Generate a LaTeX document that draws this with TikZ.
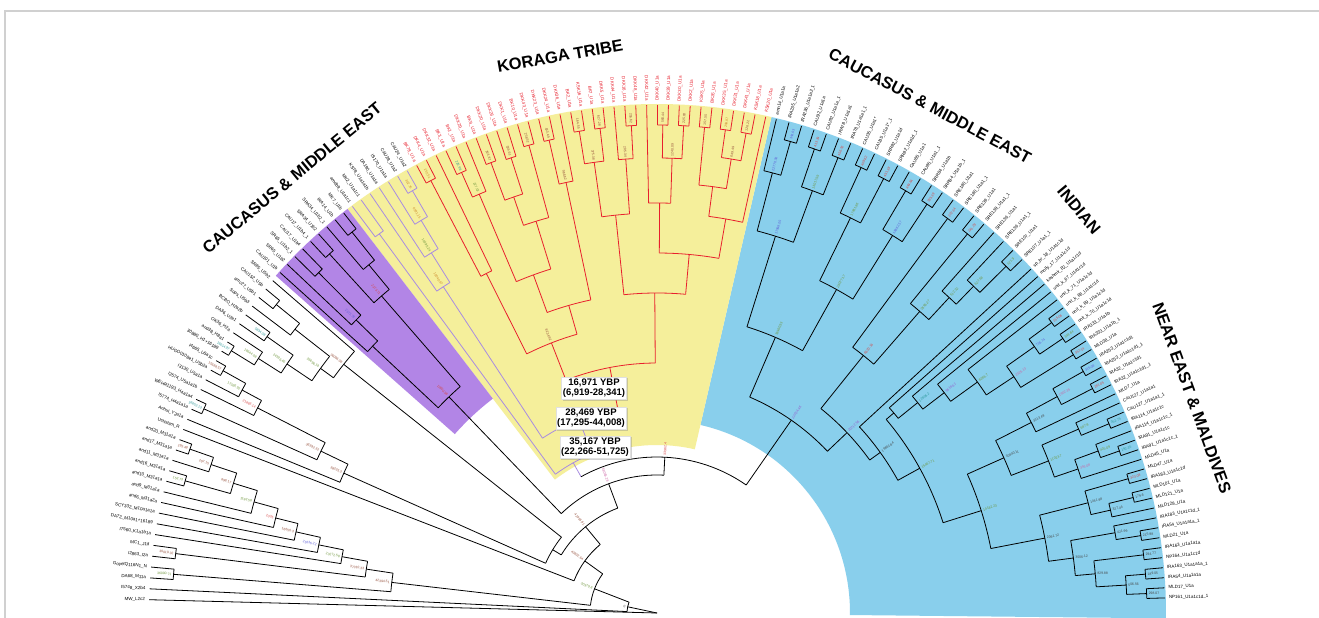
\documentclass[tikz,border=0pt]{standalone}
\usepackage{fontspec}
\setmainfont{Liberation Sans}
\usetikzlibrary{shadows}

\definecolor{skyfill}{RGB}{137,207,236}
\definecolor{yelfill}{RGB}{245,239,155}
\definecolor{purfill}{RGB}{178,133,230}
\definecolor{korred}{RGB}{232,32,45}
\definecolor{lavline}{RGB}{168,140,225}
\definecolor{framegray}{RGB}{208,208,208}
\definecolor{nred}{RGB}{215,70,70}
\definecolor{ngreen}{RGB}{110,150,60}
\definecolor{nblue}{RGB}{95,95,215}
\definecolor{nteal}{RGB}{40,150,150}
\definecolor{nbrown}{RGB}{150,80,60}
\definecolor{npink}{RGB}{205,100,165}
\definecolor{npurple}{RGB}{150,90,205}
\definecolor{norange}{RGB}{205,135,40}
\definecolor{ngray}{RGB}{70,70,70}

\tikzset{
  blk/.style={draw=black,line width=0.8pt},
  kor/.style={draw=korred,line width=0.8pt},
  lav/.style={draw=lavline,line width=0.8pt},
  leaflab/.style={font=\fontsize{4.5}{5}\selectfont,inner sep=0pt},
  vallab/.style={font=\fontsize{3.4}{4}\selectfont,inner sep=0pt},
  cladetitle/.style={font=\fontsize{16.5}{18}\selectfont\bfseries,inner sep=0pt},
  agebox/.style={fill=white,draw=black!12,align=center,inner sep=1.5pt,
    drop shadow={opacity=0.35,shadow xshift=1.5pt,shadow yshift=-1.5pt},
    font=\fontsize{9.5}{10.5}\selectfont\bfseries}
}

% angle of leaf number #1 on the fan
\newcommand\la[1]{(#1<=83 ? 178.5-1.23*#1 : (#1<=106 ? 76.41-1.47*(#1-83) : 42.6-1.136*(#1-106)))}
% stem angle of a named inner node
\newcommand\st[1]{\csname st#1\endcsname}

% value written in the box of a node
\newcommand\vlabel[4]{%
  \pgfmathsetmacro\rr{#2+2}%
  \ifdim#1pt>90pt
    \node[vallab,text=#4,rotate=#1-180,anchor=east] at (#1:\rr) {#3};%
  \else
    \node[vallab,text=#4,rotate=#1,anchor=west] at (#1:\rr) {#3};%
  \fi}

% inner node: name, child angle, child angle, radius, parent radius, value, colour, line style
\newcommand\tnode[8]{%
  \pgfmathsetmacro\angA{#2}\pgfmathsetmacro\angB{#3}%
  \pgfmathsetmacro\angM{(\angA+\angB)/2}%
  \expandafter\xdef\csname st#1\endcsname{\angM}%
  \draw[#8] (\angA:#4) arc[start angle=\angA,end angle=\angB,radius=#4pt];%
  \draw[#8] (\angM:#4) -- (\angM:#5);%
  \vlabel{\angM}{#4}{#6}{#7}}

% leaf: number, parent radius, name, line style, text colour
\newcommand\tleaf[5]{%
  \pgfmathsetmacro\angA{\la{#1}}%
  \draw[#4] (\angA:508) -- (\angA:#2);%
  \ifdim\angA pt>90pt
    \node[leaflab,text=#5,rotate=\angA-180,anchor=east] (lf#1) at (\angA:512) {#3};%
  \else
    \node[leaflab,text=#5,rotate=\angA,anchor=west] (lf#1) at (\angA:512) {#3};%
  \fi}

\begin{document}
\begin{tikzpicture}[x=1pt,y=1pt]
\useasboundingbox (0,0) rectangle (1319,618);
\fill[white] (0,0) rectangle (1319,618);
\draw[framegray,line width=1.3pt] (5,0) -- (5,607) -- (1319,607);

\begin{scope}[shift={(657,5)}]
% clade backgrounds
\fill[skyfill] (-0.6:193) -- (-0.6:509) arc[start angle=-0.6,end angle=77,radius=509pt]
  -- (77:193) arc[start angle=77,end angle=-0.6,radius=193pt] -- cycle;
\fill[yelfill] (77:168) -- (77:509) arc[start angle=77,end angle=127.45,radius=509pt]
  -- (127.45:168) arc[start angle=127.45,end angle=77,radius=168pt] -- cycle;
\fill[purfill] (127.45:270) -- (127.45:509) arc[start angle=127.45,end angle=138.5,radius=509pt]
  -- (138.5:270) arc[start angle=138.5,end angle=127.45,radius=270pt] -- cycle;

% leaves
\foreach \i/\pr/\nm in {0/0/MW\_L2c2, 1/30/I5748\_X2b4, 2/485/DA68\_M11a, 3/485/GoyetQ116N1\_N,
  4/485/I2863\_I2a, 5/485/MC1\_J1d, 6/320/I7560\_K1a1b1a, 7/345/DA72\_M10a1+16189,
  8/370/SCY332\_M10a1a1a, 9/393/and6\_M31a2a, 10/418/and9\_M31a1a, 11/490/and10\_M31a1a,
  12/490/and16\_M31a1a, 13/470/and11\_M31a1a, 14/495/and17\_M31a1a, 15/495/and20\_M31a1a,
  16/89/UstIshim\_R, 17/343/Anhui\_Y2a1a, 18/497/I5774\_H4a1a1a, 19/497/WEHR1193\_H4a1a4,
  20/449/I2574\_U5a1a1b, 21/471/I3130\_U5a1a, 22/497/HUGO0108e1\_U5b2a, 23/497/I4665\_U5a1c,
  24/500/30880\_H1+16189, 25/500/and38\_H8a1, 26/473/OK36\_H2a, 27/478/DA36\_U2e1,
  28/478/BCBO\_H2a2b, 29/460/Sops\_U5b3, 30/490/amc27\_U5b1, 31/490/CAU152\_U5b,
  32/400/SR85\_U5b2}
  {\tleaf{\i}{\pr}{\nm}{blk}{black}}
\foreach \i/\pr/\nm in {33/390/CAU101\_U1b, 34/420/SR65\_U1b2, 35/480/SR65\_U1b2\_1,
  36/480/CAU17\_U1b4, 37/486/CAU17\_U1b4\_1, 38/486/SRA34\_U1b2, 39/452/SRA34\_U1b2\_1,
  40/488/IRA14\_U1b, 41/488/MK7\_U1b}
  {\tleaf{\i}{\pr}{\nm}{blk}{black}}
\foreach \i/\pr/\nm in {42/470/amdb9\_U1a1c1, 43/470/MK2\_U1a1c1, 44/390/KST8\_U1a1a1b,
  45/425/DA190\_U1a1a, 46/458/IS170\_U1a1a, 47/488/CAU28\_U1a2, 48/488/CAU24\_U1a2}
  {\tleaf{\i}{\pr}{\nm}{lav}{black}}
\foreach \i/\pr/\nm in {49/488/BK78, 50/488/DKK4, 51/380/DKK32, 52/482/BK3, 53/482/BK1,
  54/455/DKK29, 55/480/BK9, 56/480/DKK20, 57/478/DKK26, 58/478/DKK1, 59/485/BK10,
  60/485/DKK43, 61/485/DKK23, 62/485/DKK24, 63/440/DKK36, 64/488/BK2, 65/488/KSK16,
  66/488/BK7, 67/488/DKK5, 68/455/DKK44, 69/488/DKK16, 70/488/DKK48, 71/410/DKK42,
  72/488/DKK40, 73/488/DKK39, 74/488/DKK30, 75/488/DKK2, 76/488/KSK5, 77/488/BK26,
  78/488/DKK35, 79/488/DKK31, 80/488/DKK41, 81/488/KSK18, 82/400/KSK20}
  {\tleaf{\i}{\pr}{\nm\_U1a}{kor}{korred}}
\foreach \i/\pr/\nm in {83/455/amn14\_U1a1a, 84/490/IRA235\_U1a1a2, 85/490/IRA236\_U1a1a2\_1,
  86/490/CAU92\_U1a1a, 87/490/CAU92\_U1a1a\_1, 88/490/IRA78\_U1a1a1, 89/490/IRA78\_U1a1a1\_1,
  90/490/CAU35\_U1a1*, 91/490/CAU35\_U1a1*\_1, 92/490/SRR82\_U1a1d, 93/490/SRR82\_U1a1d\_1,
  94/490/CAU85\_U1a1, 95/490/CAU85\_U1a1\_1, 96/490/SRR84\_U1a1b, 97/490/SRR84\_U1a1b\_1,
  98/490/SRE180\_U1a1, 99/490/SRE180\_U1a1\_1, 100/490/SRE139\_U1a1, 101/490/SRE139\_U1a1\_1,
  102/430/SRE136\_U1a1, 103/455/SRE136\_U1a1\_1, 104/492/SRE107\_U1a1, 105/492/SRE107\_U1a1\_1,
  106/275/sp\_br\_18\_U1a1c1d, 107/310/molly\_17\_U1a1c1d, 108/335/kashmir\_82\_U1a1c1d,
  109/362/unit\_k\_67\_U1a1c1d, 110/395/unit\_k\_71\_U1a1c1d, 111/490/unit\_k\_68\_U1a1c1d,
  112/490/unit\_k\_69\_U1a1c1d, 113/490/unit\_k\_70\_U1a1c1d, 114/490/IRA333\_U1a1b,
  115/490/IRA333\_U1a1b\_1, 116/490/MLD38\_U1a, 117/490/IRA253\_U1a1c1d1,
  118/490/IRA253\_U1a1c1d1\_1, 119/490/IRA32\_U1a1c1d1, 120/490/IRA32\_U1a1c1d1\_1,
  121/420/MLD7\_U1a, 122/460/CAU127\_U1a1a1, 123/490/CAU127\_U1a1a1\_1, 124/490/IRA114\_U1a1c1c,
  125/470/IRA114\_U1a1c1c\_1, 126/490/IRA91\_U1a1c1c, 127/490/IRA91\_U1a1c1c\_1,
  128/445/MLD45\_U1a, 129/490/MLD47\_U1a, 130/490/IRA183\_U1a1c1d, 131/490/MLD101\_U1a,
  132/490/MLD121\_U1a, 133/465/MLD128\_U1a, 134/465/IRA183\_U1a1c1d\_1,
  135/490/IRA54\_U1a1a1a\_1, 136/490/MLD21\_U1a, 137/490/IRA163\_U1a1a1a,
  138/490/NP164\_U1a1c1d, 139/490/IRA163\_U1a1a1a\_1, 140/490/IRA54\_U1a1a1a,
  141/490/MLD17\_U1a, 142/490/NP161\_U1a1c1d\_1}
  {\tleaf{\i}{\pr}{\nm}{blk}{black}}

% outgroups
\tnode{mdg}{\la{2}}{\la{3}}{485}{267}{36000.71}{ngreen}{blk}
\tnode{mim}{\la{4}}{\la{5}}{485}{294}{30010.32}{nbrown}{blk}
\tnode{m11}{\la{14}}{\la{15}}{495}{470}{195.48}{nbrown}{blk}
\tnode{m10}{\la{13}}{\st{m11}}{470}{443}{297.15}{nbrown}{blk}
\tnode{m9}{\la{11}}{\la{12}}{490}{443}{153.73}{ngreen}{blk}
\tnode{m8}{\st{m9}}{\st{m10}}{443}{418}{898.17}{nbrown}{blk}
\tnode{m7}{\la{10}}{\st{m8}}{418}{393}{1193.58}{ngreen}{blk}
\tnode{m6}{\la{9}}{\st{m7}}{393}{370}{2335}{nred}{blk}
\tnode{m5}{\la{8}}{\st{m6}}{370}{345}{16656.3}{nbrown}{blk}
\tnode{m4}{\la{7}}{\st{m5}}{345}{320}{21836.22}{nblue}{blk}
\tnode{m3}{\la{6}}{\st{m4}}{320}{294}{23272.58}{ngreen}{blk}
\tnode{m2}{\st{mim}}{\st{m3}}{294}{267}{37310.33}{nbrown}{blk}
\tnode{m1}{\st{mdg}}{\st{m2}}{267}{67}{42394.51}{nbrown}{blk}
\tnode{ha}{\la{18}}{\la{19}}{497}{373}{16652.13}{nteal}{blk}
\tnode{hb}{\la{22}}{\la{23}}{497}{471}{15688.57}{nbrown}{blk}
\tnode{hc}{\la{21}}{\st{hb}}{471}{449}{17366.92}{ngreen}{blk}
\tnode{hd}{\la{20}}{\st{hc}}{449}{373}{21863.14}{nred}{blk}
\tnode{hu2}{\st{ha}}{\st{hd}}{373}{343}{36392.32}{nbrown}{blk}
\tnode{hu1}{\la{17}}{\st{hu2}}{343}{122}{38235.3}{nbrown}{blk}
\tnode{h1}{\la{24}}{\la{25}}{500}{473}{16014.97}{nteal}{blk}
\tnode{h2}{\st{h1}}{\la{26}}{473}{446}{18644.08}{ngreen}{blk}
\tnode{h3}{\la{27}}{\la{28}}{478}{446}{5834.08}{nteal}{blk}
\tnode{h4}{\st{h2}}{\st{h3}}{446}{416}{24396.46}{ngreen}{blk}
\tnode{h6}{\la{30}}{\la{31}}{490}{460}{}{black}{blk}
\tnode{h7}{\la{29}}{\st{h6}}{460}{416}{}{black}{blk}
\tnode{h5}{\st{h4}}{\st{h7}}{416}{400}{26696.19}{ngreen}{blk}
\tnode{h8}{\st{h5}}{\la{32}}{400}{122}{36096.08}{nbrown}{blk}
\tnode{htop}{\st{hu1}}{\st{h8}}{122}{112}{}{black}{blk}

% purple clade
\tnode{pa}{\la{40}}{\la{41}}{488}{452}{}{black}{blk}
\tnode{pb}{\la{39}}{\st{pa}}{452}{420}{}{black}{blk}
\tnode{pc}{\la{37}}{\la{38}}{486}{420}{}{black}{blk}
\tnode{pd}{\st{pc}}{\st{pb}}{420}{300}{2373.71}{nred}{blk}
\tnode{pe}{\la{35}}{\la{36}}{480}{420}{}{black}{blk}
\tnode{pf}{\la{34}}{\st{pe}}{420}{390}{2571.78}{nblue}{blk}
\tnode{pg}{\la{33}}{\st{pf}}{390}{300}{}{black}{blk}
\tnode{ph}{\st{pg}}{\st{pd}}{300}{138}{11850.58}{nred}{blk}

% yellow clade
\tnode{la}{\la{47}}{\la{48}}{488}{458}{302.76}{norange}{lav}
\tnode{lb}{\la{46}}{\st{la}}{458}{425}{6581.15}{norange}{lav}
\tnode{lc}{\la{45}}{\st{lb}}{425}{390}{10295.24}{ngreen}{lav}
\tnode{ld}{\la{44}}{\st{lc}}{390}{209}{15040.87}{norange}{lav}
\tnode{le}{\la{42}}{\la{43}}{470}{172}{}{black}{lav}
\tnode{r1}{\la{49}}{\la{50}}{488}{380}{255.51}{norange}{kor}
\tnode{ra1}{\st{r1}}{\la{51}}{380}{290}{}{black}{kor}
\tnode{r2}{\la{52}}{\la{53}}{482}{455}{226.99}{nteal}{kor}
\tnode{r3}{\st{r2}}{\la{54}}{455}{360}{227.02}{ngreen}{kor}
\tnode{r4}{\la{55}}{\la{56}}{480}{440}{263.87}{nbrown}{kor}
\tnode{r5}{\la{57}}{\la{58}}{478}{440}{336.61}{nbrown}{kor}
\tnode{r45}{\st{r4}}{\st{r5}}{440}{410}{}{black}{kor}
\tnode{r6}{\la{59}}{\la{60}}{485}{410}{258.52}{nbrown}{kor}
\tnode{r27}{\st{r45}}{\st{r6}}{410}{360}{}{black}{kor}
\tnode{ra2}{\st{r3}}{\st{r27}}{360}{320}{}{black}{kor}
\tnode{r7}{\la{61}}{\la{62}}{485}{440}{453.49}{nbrown}{kor}
\tnode{r8}{\st{r7}}{\la{63}}{440}{320}{966.62}{nbrown}{kor}
\tnode{ra3}{\st{ra2}}{\st{r8}}{320}{290}{}{black}{kor}
\tnode{ra4}{\st{ra1}}{\st{ra3}}{290}{250}{8234.92}{nbrown}{kor}
\tnode{r9}{\la{64}}{\la{65}}{488}{455}{164.55}{nbrown}{kor}
\tnode{r11}{\la{66}}{\la{67}}{488}{455}{627.28}{nbrown}{kor}
\tnode{r10}{\st{r9}}{\st{r11}}{455}{400}{375.38}{nbrown}{kor}
\tnode{r12}{\la{69}}{\la{70}}{488}{455}{255.62}{nbrown}{kor}
\tnode{r13}{\la{68}}{\st{r12}}{455}{400}{205.34}{nbrown}{kor}
\tnode{r14}{\st{r10}}{\st{r13}}{400}{320}{}{black}{kor}
\tnode{r15}{\la{72}}{\la{73}}{488}{455}{560.44}{nbrown}{kor}
\tnode{r16}{\la{74}}{\la{75}}{488}{455}{225.83}{nbrown}{kor}
\tnode{r17}{\st{r15}}{\st{r16}}{455}{410}{1240.09}{nbrown}{kor}
\tnode{r18}{\la{71}}{\st{r17}}{410}{360}{}{black}{kor}
\tnode{r19}{\la{76}}{\la{77}}{488}{430}{157.55}{nbrown}{kor}
\tnode{r20}{\la{78}}{\la{79}}{488}{460}{299.87}{norange}{kor}
\tnode{r21}{\la{80}}{\la{81}}{488}{460}{126.22}{nbrown}{kor}
\tnode{r22}{\st{r20}}{\st{r21}}{460}{430}{649.49}{nbrown}{kor}
\tnode{r23}{\st{r19}}{\st{r22}}{430}{400}{}{black}{kor}
\tnode{r24}{\st{r23}}{\la{82}}{400}{360}{}{black}{kor}
\tnode{rb1}{\st{r18}}{\st{r24}}{360}{320}{}{black}{kor}
\tnode{rb2}{\st{r14}}{\st{rb1}}{320}{250}{}{black}{kor}
\tnode{rk}{\st{ra4}}{\st{rb2}}{250}{209}{}{black}{kor}
\tnode{y1}{\st{ld}}{\st{rk}}{209}{172}{}{black}{lav}
\tnode{y0}{\st{le}}{\st{y1}}{172}{156}{}{black}{lav}

% blue clade
\tnode{ca}{\la{84}}{\la{85}}{490}{455}{343.63}{nblue}{blk}
\tnode{na}{\la{83}}{\st{ca}}{455}{395}{22776.56}{nblue}{blk}
\tnode{cb}{\la{86}}{\la{87}}{490}{450}{413.29}{nred}{blk}
\tnode{cc}{\la{88}}{\la{89}}{490}{450}{456.92}{nred}{blk}
\tnode{nb}{\st{cb}}{\st{cc}}{450}{395}{13017.59}{ngreen}{blk}
\tnode{nab}{\st{na}}{\st{nb}}{395}{300}{17998.05}{nblue}{blk}
\tnode{cd}{\la{90}}{\la{91}}{490}{440}{408.62}{nred}{blk}
\tnode{ce}{\la{92}}{\la{93}}{490}{440}{451.38}{nred}{blk}
\tnode{nd}{\st{cd}}{\st{ce}}{440}{370}{17851.96}{ngreen}{blk}
\tnode{cf}{\la{94}}{\la{95}}{490}{445}{449.84}{nred}{blk}
\tnode{cg}{\la{96}}{\la{97}}{490}{445}{395.39}{nred}{blk}
\tnode{nf}{\st{cf}}{\st{cg}}{445}{370}{18662.57}{nblue}{blk}
\tnode{ndf}{\st{nd}}{\st{nf}}{370}{300}{26077.17}{ngreen}{blk}
\tnode{nbl}{\st{nab}}{\st{ndf}}{300}{235}{33960.93}{ngreen}{blk}
\tnode{ch}{\la{98}}{\la{99}}{490}{330}{222.34}{nred}{blk}
\tnode{ci}{\la{100}}{\la{101}}{490}{400}{241.29}{nred}{blk}
\tnode{cj}{\la{104}}{\la{105}}{492}{455}{121.9}{ngreen}{blk}
\tnode{nj}{\la{103}}{\st{cj}}{455}{430}{627.68}{ngreen}{blk}
\tnode{nj2}{\la{102}}{\st{nj}}{430}{400}{512.32}{ngreen}{blk}
\tnode{ni}{\st{ci}}{\st{nj2}}{400}{330}{2696.27}{ngreen}{blk}
\tnode{nh}{\st{ch}}{\st{ni}}{330}{262}{6620.16}{nred}{blk}
\tnode{ck}{\la{111}}{\la{112}}{490}{462}{155.06}{nred}{blk}
\tnode{cl}{\la{113}}{\la{114}}{490}{462}{349.64}{ngreen}{blk}
\tnode{nkl}{\st{ck}}{\st{cl}}{462}{428}{736.74}{nblue}{blk}
\tnode{cm}{\la{115}}{\la{116}}{490}{428}{357.14}{nred}{blk}
\tnode{nklm}{\st{nkl}}{\st{cm}}{428}{395}{2326.13}{npink}{blk}
\tnode{nx}{\la{110}}{\st{nklm}}{395}{362}{8286.7}{ngreen}{blk}
\tnode{ny}{\la{109}}{\st{nx}}{362}{335}{9618.61}{npurple}{blk}
\tnode{nz}{\la{108}}{\st{ny}}{335}{310}{12836.2}{nteal}{blk}
\tnode{nw}{\la{107}}{\st{nz}}{310}{300}{}{black}{blk}
\tnode{cn}{\la{117}}{\la{118}}{490}{455}{316.08}{nblue}{blk}
\tnode{co}{\la{119}}{\la{120}}{490}{455}{281.05}{nred}{blk}
\tnode{nno}{\st{cn}}{\st{co}}{455}{420}{1902.35}{npink}{blk}
\tnode{np}{\st{nno}}{\la{121}}{420}{380}{3313.49}{ngray}{blk}
\tnode{cq}{\la{123}}{\la{124}}{490}{460}{352.75}{nteal}{blk}
\tnode{nq}{\la{122}}{\st{cq}}{460}{420}{687.9}{ngreen}{blk}
\tnode{cr}{\la{126}}{\la{127}}{490}{470}{192.35}{nteal}{blk}
\tnode{nr}{\la{125}}{\st{cr}}{470}{445}{425.09}{ngreen}{blk}
\tnode{nr2}{\st{nr}}{\la{128}}{445}{420}{393.08}{npink}{blk}
\tnode{nqr}{\st{nq}}{\st{nr2}}{420}{380}{11023.7}{ngreen}{blk}
\tnode{npq}{\st{np}}{\st{nqr}}{380}{340}{10840.11}{ngray}{blk}
\tnode{cs}{\la{129}}{\la{130}}{490}{445}{323.08}{nred}{blk}
\tnode{ct}{\la{131}}{\la{132}}{490}{465}{179.6}{ngray}{blk}
\tnode{nt}{\st{ct}}{\la{133}}{465}{445}{327.44}{ngray}{blk}
\tnode{nst}{\st{cs}}{\st{nt}}{445}{395}{1441.98}{ngray}{blk}
\tnode{cu}{\la{135}}{\la{136}}{490}{465}{215.98}{ngray}{blk}
\tnode{nu}{\la{134}}{\st{cu}}{465}{420}{421.99}{ngray}{blk}
\tnode{cv}{\la{137}}{\la{138}}{490}{440}{294.77}{ngray}{blk}
\tnode{cw}{\la{139}}{\la{140}}{490}{470}{189.05}{ngray}{blk}
\tnode{cx}{\la{141}}{\la{142}}{490}{470}{298.07}{ngray}{blk}
\tnode{nwx}{\st{cw}}{\st{cx}}{470}{440}{506.56}{ngray}{blk}
\tnode{nvwx}{\st{cv}}{\st{nwx}}{440}{420}{829.88}{ngray}{blk}
\tnode{nuv}{\st{nu}}{\st{nvwx}}{420}{395}{3006.12}{ngray}{blk}
\tnode{nm2}{\st{nst}}{\st{nuv}}{395}{340}{2091.72}{ngray}{blk}
\tnode{qn}{\st{npq}}{\st{nm2}}{340}{300}{14182.23}{ngreen}{blk}
\tnode{qr2}{\st{nw}}{\st{qn}}{300}{275}{15467.71}{ngreen}{blk}
\tnode{qr}{\la{106}}{\st{qr2}}{275}{262}{19661.84}{ngray}{blk}
\tnode{br}{\st{nh}}{\st{qr}}{262}{235}{20712.56}{npurple}{blk}
\tnode{b0}{\st{nbl}}{\st{br}}{235}{156}{22024.46}{npurple}{blk}

% deep nodes
\tnode{in}{\st{y0}}{\st{b0}}{156}{138}{33962.4}{nred}{blk}
\tnode{q5}{\st{ph}}{\st{in}}{138}{112}{38066.28}{npink}{blk}
\tnode{q4}{\st{htop}}{\st{q5}}{112}{89}{42355.81}{nbrown}{blk}
\tnode{q3}{\la{16}}{\st{q4}}{89}{67}{43832.64}{nbrown}{blk}
\tnode{q2}{\st{m1}}{\st{q3}}{67}{30}{30379.8}{ngreen}{blk}
\tnode{q1}{\la{1}}{\st{q2}}{30}{0}{0}{ngray}{blk}
\end{scope}

% clade titles
\node[cladetitle,rotate=10] (tkor) at (560,562) {KORAGA TRIBE};
\node[cladetitle,rotate=39.5] (tcaul) at (292,440) {CAUCASUS \& MIDDLE EAST};
\node[cladetitle,rotate=-28] (tcaur) at (930,512) {CAUCASUS \& MIDDLE EAST};
\node[cladetitle,rotate=-50] (tind) at (1079,408) {INDIAN};
\node[cladetitle,rotate=-70] (tnem) at (1192,220) {NEAR EAST \& MALDIVES};

% age boxes
\node[agebox] (age1) at (594,230) {16,971 YBP\\(6,919-28,341)};
\node[agebox] (age2) at (591,200) {28,469 YBP\\(17,295-44,008)};
\node[agebox] (age3) at (595,171) {35,167 YBP\\(22,266-51,725)};
\end{tikzpicture}
\end{document}
